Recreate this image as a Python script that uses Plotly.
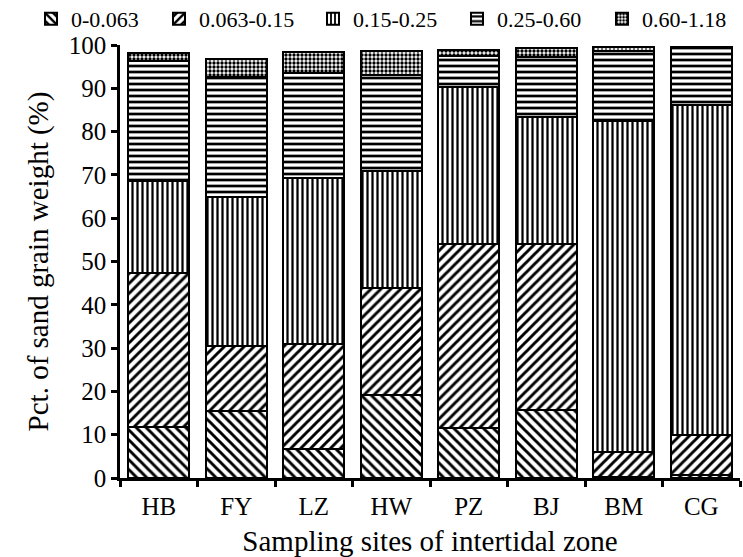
import plotly.graph_objects as go

sites = ["HB", "FY", "LZ", "HW", "PZ", "BJ", "BM", "CG"]
size_classes = ["0-0.063", "0.063-0.15", "0.15-0.25", "0.25-0.60", "0.60-1.18"]

v_0_0063 = [11.8, 15.5, 6.8, 19.1, 11.5, 15.8, 0.2, 0.6]
v_0063_015 = [35.5, 14.9, 24.2, 24.7, 42.6, 38.2, 5.7, 9.4]
v_015_025 = [21.2, 34.5, 38.3, 27.0, 36.1, 29.3, 76.6, 76.2]
v_025_060 = [27.9, 27.8, 24.3, 22.3, 7.3, 13.9, 16.1, 13.1]
v_060_118 = [1.8, 4.1, 4.9, 5.6, 1.3, 2.0, 0.9, 0.3]

series = [v_0_0063, v_0063_015, v_015_025, v_025_060, v_060_118]
patterns = [
    dict(shape="\\", size=7, solidity=0.42),
    dict(shape="/", size=7, solidity=0.42),
    dict(shape="|", size=5, solidity=0.45),
    dict(shape="-", size=6, solidity=0.45),
    dict(shape=".", size=4, solidity=0.55),
]

FONT = "Liberation Serif"
legend_names = ["legend", "legend2", "legend3", "legend4", "legend5"]
legend_x_px = [31, 159, 313, 457, 602]

fig = go.Figure()
for name, vals, pat, lg in zip(size_classes, series, patterns, legend_names):
    p = dict(pat)
    p.update(fgcolor="black", bgcolor="white", fillmode="replace")
    kw = {} if lg == "legend" else {"legend": lg}
    fig.add_trace(go.Bar(
        x=sites, y=vals, name=name, showlegend=True, **kw,
        marker=dict(color="white", pattern=p, line=dict(color="black", width=2)),
    ))

legend_layouts = {}
for lg, xp in zip(legend_names, legend_x_px):
    legend_layouts[lg] = dict(
        orientation="h", xref="container", yref="container",
        x=xp / 743, y=1 - 19 / 557, xanchor="left", yanchor="middle",
        font=dict(family=FONT, size=22, color="black"),
        itemwidth=30, bgcolor="rgba(0,0,0,0)", visible=True,
    )

fig.update_layout(
    barmode="stack",
    bargap=0.21,
    width=743, height=557,
    margin=dict(l=120, r=3, t=45, b=79, autoexpand=False),
    plot_bgcolor="white", paper_bgcolor="white",
    showlegend=True,
    font=dict(family=FONT, color="black", size=22),
    **legend_layouts,
    xaxis=dict(
        showline=True, linecolor="black", linewidth=2.5,
        ticks="outside", tickson="boundaries", ticklen=6, tickwidth=2.5, tickcolor="black",
        tickfont=dict(family=FONT, size=25, color="black"),
        ticklabelstandoff=4,
        title=dict(text="Sampling sites of intertidal zone",
                   font=dict(family=FONT, size=29, color="black"), standoff=14),
        range=[-0.5, 7.5],
    ),
    yaxis=dict(
        range=[0, 100], dtick=10,
        showline=True, linecolor="black", linewidth=2.5,
        ticks="outside", ticklen=6, tickwidth=2.5, tickcolor="black",
        showgrid=False, zeroline=False,
        tickfont=dict(family=FONT, size=25, color="black"),
        title=dict(text="Pct. of sand grain weight (%)",
                   font=dict(family=FONT, size=29, color="black"), standoff=12),
    ),
)

fig.write_html("out.html")
